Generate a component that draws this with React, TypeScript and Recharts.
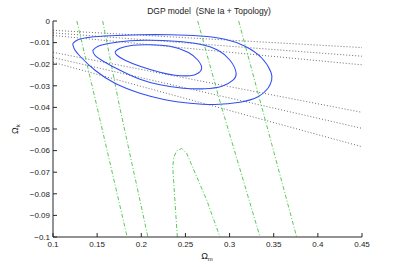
import { ComposedChart, Line, XAxis, YAxis, Label } from "recharts";

type Pt = { x: number; y: number };

const X_TICKS = [0.1, 0.15, 0.2, 0.25, 0.3, 0.35, 0.4, 0.45];
const Y_TICKS = [-0.1, -0.09, -0.08, -0.07, -0.06, -0.05, -0.04, -0.03, -0.02, -0.01, 0];

// black dotted bands (straight across the plot)
const dotted1: Pt[] = [{ x: 0.1, y: -0.0043 }, { x: 0.45, y: -0.0123 }];
const dotted2: Pt[] = [{ x: 0.1, y: -0.0055 }, { x: 0.45, y: -0.0163 }];
const dotted3: Pt[] = [{ x: 0.1, y: -0.0067 }, { x: 0.45, y: -0.0203 }];
const dotted4: Pt[] = [{ x: 0.1, y: -0.0145 }, { x: 0.45, y: -0.0423 }];
const dotted5: Pt[] = [{ x: 0.1, y: -0.0169 }, { x: 0.45, y: -0.0497 }];
const dotted6: Pt[] = [{ x: 0.1, y: -0.0191 }, { x: 0.45, y: -0.0582 }];

// green dash-dot (topology) contours
const greenA: Pt[] = [{ x: 0.127, y: 0 }, { x: 0.1492, y: -0.0386 }, { x: 0.184, y: -0.1 }];
const greenB: Pt[] = [{ x: 0.1563, y: 0 }, { x: 0.1751, y: -0.039 }, { x: 0.2075, y: -0.1 }];
const greenC: Pt[] = [{ x: 0.2639, y: 0 }, { x: 0.2897, y: -0.0381 }, { x: 0.3345, y: -0.1 }];
const greenD: Pt[] = [{ x: 0.3103, y: 0 }, { x: 0.3356, y: -0.0385 }, { x: 0.376, y: -0.1 }];
const greenE: Pt[] = [
  { x: 0.2408, y: -0.1 },
  { x: 0.2356, y: -0.0675 },
  { x: 0.237, y: -0.0629 },
  { x: 0.2401, y: -0.0601 },
  { x: 0.2458, y: -0.059 },
  { x: 0.2514, y: -0.0613 },
  { x: 0.2628, y: -0.0721 },
  { x: 0.2741, y: -0.0829 },
  { x: 0.2891, y: -0.1 },
];

// blue SNe Ia confidence contours
const outer: Pt[] = [
  { x: 0.1223, y: -0.01045 },
  { x: 0.1283, y: -0.00869 },
  { x: 0.1419, y: -0.00754 },
  { x: 0.1646, y: -0.00684 },
  { x: 0.1985, y: -0.00638 },
  { x: 0.2325, y: -0.00638 },
  { x: 0.2665, y: -0.00693 },
  { x: 0.2948, y: -0.00846 },
  { x: 0.3175, y: -0.0117 },
  { x: 0.3367, y: -0.01724 },
  { x: 0.3469, y: -0.02372 },
  { x: 0.3477, y: -0.02742 },
  { x: 0.3435, y: -0.03111 },
  { x: 0.3322, y: -0.03504 },
  { x: 0.3118, y: -0.03759 },
  { x: 0.2835, y: -0.03865 },
  { x: 0.2552, y: -0.03805 },
  { x: 0.2269, y: -0.03643 },
  { x: 0.1985, y: -0.03343 },
  { x: 0.1702, y: -0.0288 },
  { x: 0.1476, y: -0.02279 },
  { x: 0.1306, y: -0.01632 },
  { x: 0.1238, y: -0.01262 },
  { x: 0.1223, y: -0.01045 },
];
const middle: Pt[] = [
  { x: 0.145, y: -0.01355 },
  { x: 0.151, y: -0.0117 },
  { x: 0.1646, y: -0.01031 },
  { x: 0.1872, y: -0.00915 },
  { x: 0.2099, y: -0.00892 },
  { x: 0.2382, y: -0.00939 },
  { x: 0.2665, y: -0.01077 },
  { x: 0.2869, y: -0.01355 },
  { x: 0.3005, y: -0.01817 },
  { x: 0.3073, y: -0.02372 },
  { x: 0.3039, y: -0.02742 },
  { x: 0.2914, y: -0.03019 },
  { x: 0.2722, y: -0.03135 },
  { x: 0.2473, y: -0.03111 },
  { x: 0.2212, y: -0.0295 },
  { x: 0.1985, y: -0.02695 },
  { x: 0.1759, y: -0.02279 },
  { x: 0.1589, y: -0.01909 },
  { x: 0.1476, y: -0.01586 },
  { x: 0.145, y: -0.01355 },
];
const inner: Pt[] = [
  { x: 0.1702, y: -0.01433 },
  { x: 0.1759, y: -0.01262 },
  { x: 0.1906, y: -0.01123 },
  { x: 0.2099, y: -0.011 },
  { x: 0.2325, y: -0.0117 },
  { x: 0.2529, y: -0.01447 },
  { x: 0.2642, y: -0.01817 },
  { x: 0.2684, y: -0.02187 },
  { x: 0.2642, y: -0.02418 },
  { x: 0.2552, y: -0.02534 },
  { x: 0.2382, y: -0.0251 },
  { x: 0.2212, y: -0.02372 },
  { x: 0.1985, y: -0.02094 },
  { x: 0.1816, y: -0.01817 },
  { x: 0.1725, y: -0.01586 },
  { x: 0.1702, y: -0.01433 },
];

const DOTTED = [dotted1, dotted2, dotted3, dotted4, dotted5, dotted6];
const GREEN = [greenA, greenB, greenC, greenD, greenE];
const CONTOURS = [outer, middle, inner];

const TITLE = "DGP model\u00a0\u00a0(SNe Ia + Topology)";

const FONT = "'Liberation Sans', Arial, Helvetica, sans-serif";
const AXIS = "#262626";
const BLUE = "#2f4ff2";
const GREEN_C = "#44c444";

const fmtX = (v: number) => String(v);
const fmtY = (v: number) => (v === 0 ? "0" : "\u2212" + String(-v));
const blank = () => "";

const tickStyle = { fontSize: 8, fill: "#222", fontFamily: FONT };

export default function App() {
  return (
    <div style={{ position: "absolute", left: 0, top: 0, width: 400, height: 267, background: "#fff" }}>
      <ComposedChart
        width={400}
        height={267}
        margin={{ top: 21, right: 38, bottom: 0, left: 0 }}
        style={{ fontFamily: FONT }}
      >
        <XAxis
          type="number"
          dataKey="x"
          domain={[0.1, 0.45]}
          ticks={X_TICKS}
          interval={0}
          tickFormatter={fmtX}
          height={30}
          tickSize={-4}
          tickMargin={8}
          tick={tickStyle}
          stroke={AXIS}
          allowDataOverflow
        >
          <Label
            content={() => (
              <text x={207} y={259} textAnchor="middle" fontSize={9} fill="#222" fontFamily={FONT}>
                Ω<tspan fontSize={6} dy={2}>m</tspan>
              </text>
            )}
          />
        </XAxis>
        <XAxis
          xAxisId="top"
          orientation="top"
          type="number"
          domain={[0.1, 0.45]}
          ticks={X_TICKS}
          interval={0}
          tickFormatter={blank}
          height={0}
          tickSize={-4}
          stroke={AXIS}
          allowDataOverflow
        />
        <YAxis
          type="number"
          dataKey="y"
          domain={[-0.1, 0]}
          ticks={Y_TICKS}
          interval={0}
          tickFormatter={fmtY}
          width={53}
          tickSize={-4}
          tickMargin={7}
          tick={tickStyle}
          stroke={AXIS}
          allowDataOverflow
        >
          <Label
            content={() => (
              <g>
                <text
                  x={18}
                  y={129}
                  transform="rotate(-90, 18, 129)"
                  textAnchor="middle"
                  fontSize={9}
                  fill="#222"
                  fontFamily={FONT}
                >
                  Ω<tspan fontSize={6} dy={2}>k</tspan>
                </text>
                <text x={209} y={14} textAnchor="middle" fontSize={8.5} fill="#222" fontFamily={FONT}>
                  {TITLE}
                </text>
              </g>
            )}
          />
        </YAxis>
        <YAxis
          yAxisId="right"
          orientation="right"
          type="number"
          domain={[-0.1, 0]}
          ticks={Y_TICKS}
          interval={0}
          tickFormatter={blank}
          width={0}
          tickSize={-4}
          stroke={AXIS}
          allowDataOverflow
        />

        {DOTTED.map((d, i) => (
          <Line
            key={"d" + i}
            data={d}
            dataKey="y"
            type="linear"
            stroke="#4a4a4a"
            strokeWidth={0.8}
            strokeDasharray="1 2"
            dot={false}
            activeDot={false}
            isAnimationActive={false}
          />
        ))}
        {GREEN.map((d, i) => (
          <Line
            key={"g" + i}
            data={d}
            dataKey="y"
            type="linear"
            stroke={GREEN_C}
            strokeWidth={0.9}
            strokeDasharray="4 2 1 2"
            dot={false}
            activeDot={false}
            isAnimationActive={false}
          />
        ))}
        {CONTOURS.map((d, i) => (
          <Line
            key={"c" + i}
            data={d}
            dataKey="y"
            type="natural"
            stroke={BLUE}
            strokeWidth={1.05}
            dot={false}
            activeDot={false}
            isAnimationActive={false}
          />
        ))}
      </ComposedChart>
    </div>
  );
}
